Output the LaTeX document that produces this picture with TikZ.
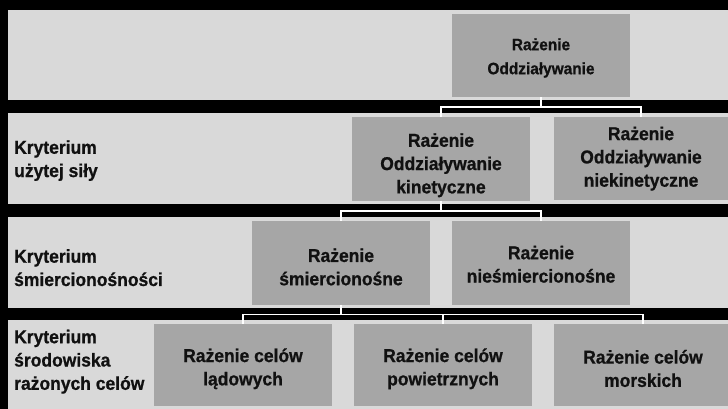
\documentclass[tikz,border=0pt]{standalone}
\usepackage{fontspec}
\setmainfont{Liberation Sans}[BoldFeatures={FakeStretch=0.94,FakeBold=0.8}]
\definecolor{bandgrey}{HTML}{D9D9D9}
\definecolor{boxgrey}{HTML}{A6A6A6}
\definecolor{inkdark}{HTML}{111111}
\begin{document}
\begin{tikzpicture}[x=1pt,y=-1pt,
  band/.style={fill=bandgrey,draw=none},
  box/.style={rectangle,fill=boxgrey,draw=none,inner sep=0pt,
    minimum width=178pt,minimum height=83.5pt},
  boxtext/.style={align=center,inner sep=0pt,text=inkdark,
    font=\bfseries\fontsize{18.6}{23.3}\selectfont},
  toptext/.style={boxtext,font=\bfseries\fontsize{16.4}{24}\selectfont},
  crit/.style={anchor=west,align=left,inner sep=0pt,text=inkdark,
    font=\bfseries\fontsize{18.6}{23.3}\selectfont},
  conn/.style={draw=white,line width=1.6pt,line join=miter}]

% canvas
\fill[black] (0,0) rectangle (728,409);
\useasboundingbox (0,0) rectangle (728,409);

% one band per level of the classification
\fill[band] (8,10)  rectangle (728,100.5);
\fill[band] (8,113) rectangle (728,203.5);
\fill[band] (8,217) rectangle (728,307.5);
\fill[band] (8,320) rectangle (728,409);

% criteria
\node[crit] (c1) at (14,160.6) {Kryterium\\użytej siły};
\node[crit] (c2) at (14,267.7) {Kryterium\\śmiercionośności};
\node[crit] (c3) at (14,361.7) {Kryterium\\środowiska\\rażonych celów};

% boxes
\node[box,minimum height=83.3pt] (top) at (541,55.65) {};
\node[box] (kin) at (441,158.75) {};
\node[box,minimum width=174pt] (nkin) at (641,158.6) {};
\node[box] (leth) at (341,262.75) {};
\node[box] (nleth) at (541,262.75) {};
\node[box,minimum height=82pt] (land) at (243,365) {};
\node[box,minimum height=82pt] (air) at (443,365) {};
\node[box,minimum height=82pt] (sea) at (643,365) {};

% box texts
\node[toptext] (ttop) at ([yshift=-2.3pt]top.center) {Rażenie\\Oddziaływanie};
\node[boxtext] (tkin) at ([yshift=-6.5pt]kin.center) {Rażenie\\Oddziaływanie\\kinetyczne};
\node[boxtext] (tnkin) at (nkin.center) {Rażenie\\Oddziaływanie\\niekinetyczne};
\node[boxtext] (tleth) at ([yshift=-4.2pt]leth.center) {Rażenie\\śmiercionośne};
\node[boxtext] (tnleth) at ([yshift=-1.5pt]nleth.center) {Rażenie\\nieśmiercionośne};
\node[boxtext] (tland) at ([yshift=-3.8pt]land.center) {Rażenie celów\\lądowych};
\node[boxtext] (tair) at ([yshift=-3.8pt]air.center) {Rażenie celów\\powietrznych};
\node[boxtext] (tsea) at ([yshift=-3.5pt]sea.center) {Rażenie celów\\morskich};

% connector buses
\coordinate (bus1) at (0,107.3);
\coordinate (bus2) at (0,210.7);
\coordinate (bus3) at (0,314.3);

\draw[conn] (top.south) -- (top.south |- bus1);
\draw[conn] (kin.north) -- (kin.north |- bus1) -- (nkin.north |- bus1) -- (nkin.north);

\draw[conn] (kin.south) -- (kin.south |- bus2);
\draw[conn] (leth.north) -- (leth.north |- bus2) -- (nleth.north |- bus2) -- (nleth.north);

\draw[conn] (leth.south) -- (leth.south |- bus3);
\draw[conn] (land.north) -- (land.north |- bus3) -- (sea.north |- bus3) -- (sea.north);
\draw[conn] (air.north) -- (air.north |- bus3);
\end{tikzpicture}
\end{document}
